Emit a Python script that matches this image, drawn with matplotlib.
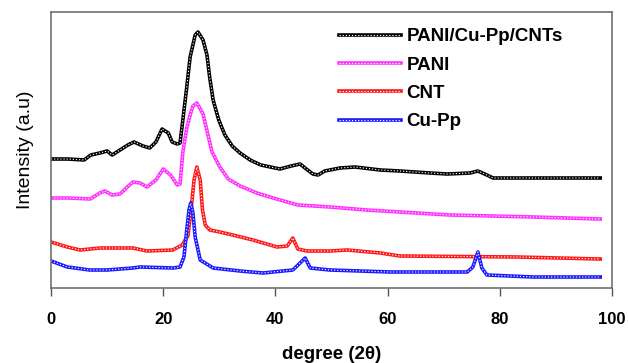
import matplotlib
matplotlib.use("Agg")
import matplotlib.pyplot as plt

plt.rcParams['font.family'] = ['Liberation Sans', 'DejaVu Sans']

# XRD patterns (degree 2theta, intensity a.u.)
comp_x = [0, 3, 5.9, 7.1, 8.7, 10.0, 10.9, 12.3, 13.7, 14.8, 16.4, 17.6, 18.7, 19.8, 20.9,
          21.6, 22.5, 23.0, 23.5, 24.2, 24.8, 25.7, 26.2, 27.1, 27.8, 28.3, 28.9, 29.9, 31.0,
          32.3, 33.7, 35.5, 37.4, 40.8, 42.8, 44.4, 45.5, 46.7, 47.6, 48.8, 51.5, 54.2, 58.7,
          62.2, 67.6, 70.6, 74.7, 76.1, 77.7, 78.8, 85.0, 97.9]
comp_y = [129, 129, 128, 133, 135, 137, 133, 138, 143, 146, 142, 140, 146, 159, 155,
          146, 144, 145, 168, 201, 231, 253, 256, 248, 233, 210, 188, 168, 153,
          142, 135, 128, 123, 119, 122, 124, 119, 114, 113, 117, 120, 121, 118,
          117, 115, 114, 115, 117, 113, 110, 110, 110]

pani_x = [0, 3, 7.0, 8.7, 9.6, 10.9, 12.3, 13.6, 14.6, 15.9, 17.1, 18.7, 20.0, 21.3, 22.5,
          23.0, 23.5, 24.2, 24.8, 25.3, 26.0, 27.1, 27.9, 28.7, 30.1, 31.6, 33.7, 36.7, 39.6,
          44.0, 49.7, 56.3, 62.2, 71.1, 85.9, 97.9]
pani_y = [90, 90, 89, 95, 97, 93, 94, 101, 106, 105, 101, 108, 119, 113, 103,
          104, 136, 160, 173, 182, 185, 174, 155, 136, 121, 109, 102, 95, 90,
          83, 81, 78, 76, 73, 71, 69]

cnt_x = [0, 2.9, 5.2, 8.7, 14.6, 17.1, 21.7, 23.4, 23.9, 24.4, 24.9, 25.5, 26.0, 26.6, 27.0,
         27.5, 28.3, 30.1, 32.4, 36.0, 40.3, 42.1, 43.1, 44.0, 45.6, 49.7, 52.8, 58.7, 62.2,
         83.1, 97.9]
cnt_y = [46, 41, 38, 40, 40, 37, 38, 43, 48, 52, 75, 108, 121, 108, 78,
         63, 58, 56, 53, 48, 41, 42, 50, 39, 37, 37, 38, 35, 32,
         31, 29]

cupp_x = [0, 2.9, 6.9, 10.0, 14.6, 15.9, 21.7, 23.0, 23.7, 24.2, 24.6, 24.9, 25.3, 25.7, 26.6,
          28.9, 33.7, 37.8, 43.1, 44.4, 45.3, 46.2, 49.7, 60.4, 74.2, 75.2, 76.1, 76.8, 77.7,
          85.9, 97.9]
cupp_y = [27, 21, 18, 18, 20, 21, 20, 21, 31, 58, 78, 85, 75, 51, 28,
          20, 17, 15, 18, 25, 30, 20, 18, 16, 16, 21, 36, 20, 13,
          11, 11]

series = [
    (comp_x, comp_y, 'black', 'PANI/Cu-Pp/CNTs'),
    (pani_x, pani_y, '#ff33ff', 'PANI'),
    (cnt_x, cnt_y, '#ff1a1a', 'CNT'),
    (cupp_x, cupp_y, '#1a1aff', 'Cu-Pp'),
]

fig = plt.figure(figsize=(6.28, 3.63), dpi=100)
ax = fig.add_axes([51 / 628, 75 / 363, 561 / 628, 276 / 363])

handles = []
for x, y, c, name in series:
    # a chain of small open circles: thick coloured line with white dots on top
    outer, = ax.plot(x, y, color=c, lw=2.6, solid_joinstyle='round')
    inner, = ax.plot(x, y, color='white', lw=0.8, dashes=(1.1, 1.7))
    handles.append(((outer, inner), name))

ax.set_xlim(0, 100)
ax.set_ylim(0, 276)
ax.set_xticks([0, 20, 40, 60, 80, 100])
ax.set_yticks([])
for lab in ax.get_xticklabels():
    lab.set_fontweight('bold')
ax.tick_params(axis='x', direction='out', length=6, width=1, colors='#555555',
               labelcolor='black', labelsize=12, pad=11)
for sp in ax.spines.values():
    sp.set_color('#666666')
    sp.set_linewidth(1.1)

ax.set_xlabel('degree (2θ)', fontsize=13.5, fontweight='bold', labelpad=14)
ax.set_ylabel('Intensity (a.u)', fontsize=14, labelpad=12)

ax.legend([h for h, _ in handles], [n for _, n in handles],
          loc='upper left', bbox_to_anchor=(339 / 628, 1 - 28 / 363),
          bbox_transform=fig.transFigure, frameon=False, borderpad=0,
          borderaxespad=0, handlelength=3.3, handletextpad=0.3, labelspacing=0.6,
          prop={'size': 13.5, 'weight': 'bold'})

fig.savefig('out.png', dpi=100)
